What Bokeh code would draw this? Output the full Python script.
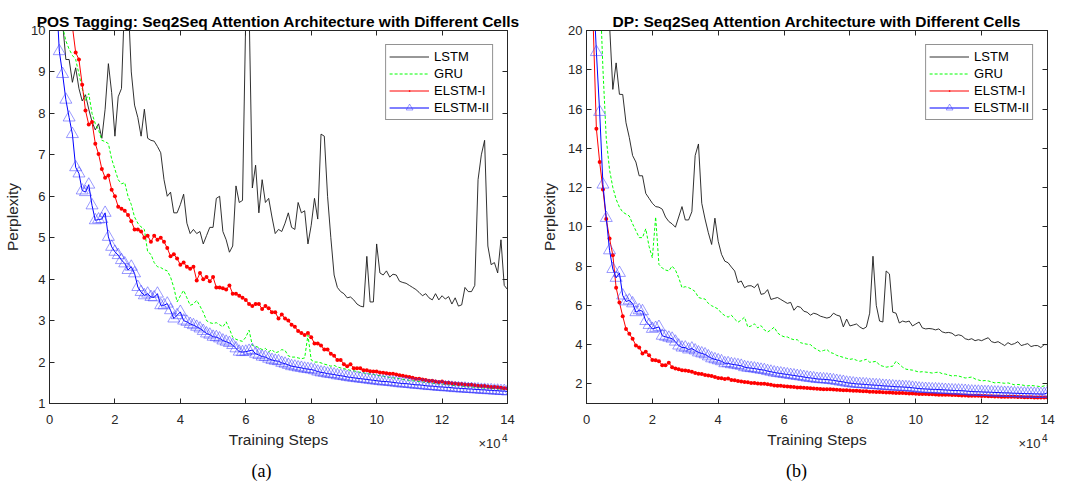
from bokeh.plotting import figure
from bokeh.layouts import row
from bokeh.models import Range1d, LinearAxis, FixedTicker, Legend, LegendItem, Label
from bokeh.embed import file_html
from bokeh.resources import INLINE

# training steps in units of 10^4 (one sample every 1000 steps, 0.2 ... 14.0)
steps = [k / 10 for k in range(2, 141)]

# ---------------- (a) POS tagging ----------------
pos_lstm = [
    12.0, 11.0, 10.2, 9.3, 9.3, 8.75, 9.1, 8.6,
    8.3, 8.45, 8.1, 7.8, 7.6, 7.75, 7.4, 8.1, 9.2, 8.5,
    7.45, 8.4, 8.6, 10.8, 10.8, 9.0, 8.2, 7.9, 7.45, 8.1,
    7.4, 7.35, 7.33, 7.2, 7.05, 6.4, 6.0, 6.1, 5.6, 5.6,
    5.8, 6.05, 5.35, 5.1, 5.2, 5.1, 5.15, 4.85, 5.05, 5.25,
    5.25, 5.95, 6.0, 5.15, 4.95, 4.65, 4.8, 6.25, 5.85, 5.9,
    10.4, 10.6, 6.2, 6.75, 5.6, 6.4, 5.85, 5.95, 5.5, 5.1,
    5.2, 5.15, 5.35, 5.6, 5.25, 5.2, 5.85, 5.6, 5.65, 4.85,
    5.3, 5.95, 5.45, 7.5, 7.45, 6.0, 5.0, 4.1, 3.8, 3.7,
    3.65, 3.55, 3.57, 3.5, 3.4, 3.35, 3.33, 4.55, 3.45, 3.45,
    4.85, 4.15, 4.1, 4.2, 4.05, 4.12, 4.1, 3.95, 3.92, 3.9,
    3.85, 3.8, 3.75, 3.68, 3.6, 3.65, 3.55, 3.5, 3.65, 3.5,
    3.6, 3.52, 3.58, 3.4, 3.55, 3.35, 3.38, 3.8, 3.7, 3.7,
    3.85, 6.4, 7.0, 7.35, 4.8, 4.35, 4.4, 4.15, 4.95, 3.85,
    3.75,
]
pos_gru = [
    12.5, 11.0, 10.1, 9.75, 9.55, 9.4, 9.3, 8.95,
    8.6, 8.3, 8.48, 8.0, 7.75, 7.6, 7.35, 7.32, 7.27, 6.9,
    6.65, 6.4, 6.3, 6.33, 6.0, 5.8, 5.5, 5.35, 5.26, 5.2,
    4.66, 4.6, 4.4, 4.3, 4.28, 4.23, 4.2, 4.05, 3.8, 3.45,
    3.6, 3.73, 3.55, 3.37, 3.4, 3.49, 3.35, 3.2, 3.0, 2.95,
    2.93, 2.95, 2.9, 2.85, 2.97, 2.8, 2.6, 2.55, 2.52, 2.5,
    2.6, 2.77, 2.4, 2.38, 2.35, 2.3, 2.33, 2.25, 2.3, 2.22,
    2.25, 2.3, 2.28, 2.15, 2.12, 2.12, 2.1, 2.08, 2.1, 2.65,
    2.05, 2.0, 2.0, 1.98, 1.95, 1.93, 1.9, 1.92, 1.88, 1.86,
    1.84, 1.82, 1.8, 1.79, 1.77, 1.75, 1.74, 1.72, 1.71, 1.7,
    1.68, 1.67, 1.66, 1.64, 1.63, 1.62, 1.61, 1.6, 1.58, 1.57,
    1.56, 1.55, 1.54, 1.53, 1.52, 1.51, 1.5, 1.49, 1.48, 1.47,
    1.47, 1.46, 1.45, 1.44, 1.43, 1.43, 1.42, 1.41, 1.4, 1.4,
    1.39, 1.38, 1.38, 1.37, 1.37, 1.36, 1.36, 1.35, 1.35, 1.34,
    1.34,
]
pos_elstm1 = [
    15.0, 14.0, 12.8, 11.8, 10.9, 10.1, 9.47, 9.3,
    8.69, 8.07, 7.73, 7.79, 7.27, 7.02, 6.66, 6.45, 6.5, 6.16,
    6.0, 5.75, 5.7, 5.65, 5.55, 5.4, 5.2, 5.2, 5.15, 5.0,
    5.05, 4.9, 5.05, 4.95, 5.0, 4.9, 4.75, 4.55, 4.6, 4.5,
    4.35, 4.4, 4.3, 4.25, 4.3, 3.97, 4.15, 4.0, 4.05, 3.95,
    4.05, 3.8, 3.8, 3.78, 3.75, 3.85, 3.65, 3.65, 3.6, 3.55,
    3.5, 3.4, 3.35, 3.4, 3.4, 3.28, 3.35, 3.3, 3.2, 3.2,
    3.05, 3.15, 3.05, 3.0, 2.9, 2.85, 2.75, 2.7, 2.65, 2.7,
    2.6, 2.45, 2.45, 2.4, 2.3, 2.3, 2.2, 2.15, 2.05, 2.05,
    1.95, 1.9, 1.95, 1.85, 1.85, 1.85, 1.8, 1.8, 1.78, 1.77,
    1.77, 1.75, 1.74, 1.73, 1.72, 1.72, 1.7, 1.68, 1.67, 1.65,
    1.64, 1.62, 1.6, 1.6, 1.58, 1.57, 1.55, 1.55, 1.53, 1.52,
    1.53, 1.5, 1.5, 1.49, 1.48, 1.47, 1.47, 1.46, 1.45, 1.45,
    1.44, 1.43, 1.42, 1.42, 1.41, 1.4, 1.4, 1.39, 1.38, 1.37,
    1.36,
]
pos_elstm2 = [
    11.0, 9.5, 8.95, 8.33, 7.9, 7.5, 6.7, 6.55,
    6.14, 6.1, 6.28, 5.78, 5.42, 5.44, 5.45, 5.6, 5.02, 4.78,
    4.66, 4.58, 4.46, 4.38, 4.22, 4.3, 4.14, 3.81, 3.69, 3.61,
    3.65, 3.57, 3.56, 3.65, 3.37, 3.37, 3.41, 3.25, 3.05, 3.13,
    3.21, 3.0, 2.97, 2.92, 2.89, 2.85, 2.81, 2.75, 2.69, 2.66,
    2.61, 2.6, 2.57, 2.52, 2.49, 2.46, 2.41, 2.33, 2.25, 2.24,
    2.25, 2.27, 2.29, 2.2, 2.17, 2.13, 2.12, 2.08, 2.05, 2.03,
    2.02, 1.98, 1.96, 1.93, 1.9, 1.89, 1.87, 1.86, 1.84, 1.83,
    1.82, 1.8, 1.77, 1.75, 1.74, 1.72, 1.71, 1.7, 1.68, 1.67,
    1.66, 1.64, 1.63, 1.62, 1.61, 1.6, 1.59, 1.58, 1.57, 1.56,
    1.55, 1.54, 1.53, 1.53, 1.52, 1.51, 1.5, 1.49, 1.48, 1.48,
    1.47, 1.46, 1.45, 1.45, 1.44, 1.43, 1.42, 1.42, 1.41, 1.4,
    1.4, 1.39, 1.39, 1.38, 1.37, 1.37, 1.36, 1.36, 1.35, 1.35,
    1.34, 1.34, 1.33, 1.33, 1.32, 1.32, 1.31, 1.31, 1.3, 1.3,
    1.29,
]

# ---------------- (b) DP ----------------
dp_lstm = [
    30.0, 28.0, 26.0, 24.5, 22.5, 20.3, 17.0, 18.35,
    16.75, 16.74, 15.3, 14.55, 13.63, 13.3, 12.6, 12.6, 11.7, 11.45,
    11.2, 11.03, 11.0, 10.9, 10.5, 10.27, 10.15, 9.98, 10.5, 11.03,
    10.35, 10.35, 10.77, 13.63, 14.22, 11.2, 10.4, 9.7, 9.1, 10.44,
    9.26, 8.6, 8.25, 8.17, 7.95, 7.75, 7.16, 7.24, 6.9, 6.99,
    7.0, 6.9, 7.1, 6.56, 6.6, 6.8, 6.3, 6.35, 6.4, 6.3,
    6.2, 6.1, 6.15, 5.75, 5.95, 5.9, 5.7, 5.65, 5.5, 5.6,
    5.55, 5.45, 5.4, 5.35, 5.4, 5.6, 5.5, 5.45, 4.9, 5.3,
    4.95, 5.0, 5.05, 4.9, 4.8, 4.9, 5.6, 8.5, 6.0, 5.2,
    5.15, 7.75, 7.6, 5.65, 5.6, 5.1, 5.2, 5.15, 5.2, 4.95,
    5.05, 5.15, 4.85, 4.8, 4.82, 4.8, 4.75, 4.8, 4.65, 4.6,
    4.62, 4.58, 4.45, 4.5, 4.45, 4.3, 4.25, 4.3, 4.2, 4.25,
    4.2, 4.28, 4.35, 4.15, 4.1, 4.15, 4.05, 3.95, 4.1, 4.0,
    4.05, 4.15, 3.95, 4.0, 4.05, 3.9, 3.95, 3.95, 3.85, 4.0,
    4.0,
]
dp_gru = [
    35.0, 28.0, 22.5, 18.0, 14.5, 12.9, 12.0, 11.4,
    11.0, 10.75, 10.65, 10.55, 10.15, 9.8, 9.45, 9.45, 9.9, 9.0,
    8.42, 10.5, 8.08, 7.9, 7.8, 7.75, 8.0, 7.8, 7.41, 6.9,
    6.95, 6.9, 6.82, 6.7, 6.4, 6.35, 6.32, 6.1, 5.98, 5.9,
    5.81, 5.6, 5.48, 5.4, 5.5, 5.3, 5.14, 5.25, 5.4, 4.89,
    4.95, 5.06, 4.85, 4.97, 4.75, 4.64, 4.75, 4.89, 4.6, 4.47,
    4.4, 4.39, 4.3, 4.25, 4.25, 4.1, 4.05, 4.02, 4.0, 3.85,
    3.75, 3.65, 3.7, 3.75, 3.6, 3.55, 3.45, 3.4, 3.35, 3.3,
    3.25, 3.28, 3.2, 3.15, 3.2, 3.25, 3.1, 3.12, 3.15, 2.95,
    2.9, 2.85, 2.88, 2.9, 3.15, 3.0, 2.85, 2.75, 2.72, 2.7,
    2.65, 2.6, 2.62, 2.6, 2.58, 2.55, 2.58, 2.6, 2.52, 2.5,
    2.45, 2.4, 2.42, 2.4, 2.35, 2.3, 2.32, 2.35, 2.25, 2.2,
    2.15, 2.17, 2.15, 2.1, 2.05, 2.07, 2.05, 2.03, 2.05, 2.0,
    1.95, 1.97, 1.95, 1.92, 1.9, 1.92, 1.9, 1.88, 1.85, 1.9,
    1.95,
]
dp_elstm1 = [
    20.5, 15.0, 13.3, 11.9, 10.4, 9.4, 8.55, 6.9,
    6.15, 5.45, 4.8, 4.55, 4.3, 3.95, 3.85, 3.55, 3.63, 3.46,
    3.22, 3.2, 3.15, 2.95, 2.95, 3.08, 2.85, 2.78, 2.75, 2.7,
    2.68, 2.65, 2.62, 2.55, 2.52, 2.5, 2.45, 2.42, 2.4, 2.35,
    2.3, 2.28, 2.25, 2.27, 2.2, 2.18, 2.15, 2.12, 2.1, 2.08,
    2.05, 2.04, 2.02, 2.0, 2.01, 1.98, 1.95, 1.92, 1.9, 1.9,
    1.88, 1.87, 1.85, 1.84, 1.82, 1.81, 1.8, 1.79, 1.78, 1.76,
    1.75, 1.74, 1.73, 1.72, 1.72, 1.71, 1.7, 1.69, 1.68, 1.67,
    1.66, 1.65, 1.65, 1.64, 1.62, 1.62, 1.6, 1.6, 1.59, 1.58,
    1.57, 1.56, 1.56, 1.55, 1.54, 1.53, 1.53, 1.52, 1.51, 1.51,
    1.5, 1.49, 1.49, 1.48, 1.47, 1.47, 1.46, 1.45, 1.45, 1.44,
    1.44, 1.43, 1.43, 1.42, 1.41, 1.41, 1.4, 1.4, 1.39, 1.39,
    1.38, 1.38, 1.37, 1.37, 1.36, 1.36, 1.35, 1.35, 1.35, 1.34,
    1.34, 1.33, 1.33, 1.32, 1.32, 1.32, 1.31, 1.31, 1.3, 1.3,
    1.3,
]
dp_elstm2 = [
    22.5, 18.9, 15.85, 12.15, 10.45, 8.8, 7.85, 7.4,
    7.65, 6.5, 6.2, 6.25, 6.1, 5.65, 5.75, 5.7, 5.2, 5.0,
    4.8, 4.85, 4.9, 4.45, 4.4, 4.35, 4.3, 4.15, 3.95, 3.85,
    3.85, 3.75, 3.8, 3.7, 3.6, 3.55, 3.5, 3.4, 3.3, 3.25,
    3.2, 3.15, 3.05, 3.05, 3.0, 2.98, 2.95, 2.92, 2.85, 2.82,
    2.8, 2.78, 2.75, 2.72, 2.7, 2.65, 2.62, 2.58, 2.55, 2.53,
    2.5, 2.48, 2.45, 2.43, 2.4, 2.38, 2.35, 2.32, 2.3, 2.28,
    2.25, 2.24, 2.23, 2.22, 2.2, 2.18, 2.15, 2.12, 2.1, 2.06,
    2.04, 2.02, 2.0, 1.99, 1.98, 1.97, 1.95, 1.94, 1.93, 1.92,
    1.9, 1.89, 1.88, 1.87, 1.85, 1.85, 1.84, 1.83, 1.82, 1.8,
    1.78, 1.76, 1.75, 1.74, 1.73, 1.72, 1.72, 1.71, 1.7, 1.69,
    1.68, 1.67, 1.66, 1.66, 1.65, 1.64, 1.62, 1.61, 1.6, 1.6,
    1.59, 1.58, 1.58, 1.57, 1.56, 1.56, 1.55, 1.54, 1.54, 1.53,
    1.52, 1.52, 1.51, 1.51, 1.5, 1.5, 1.49, 1.49, 1.48, 1.48,
    1.55,
]

x_ticks = [0, 2, 4, 6, 8, 10, 12, 14]
pos_y_ticks = [1, 2, 3, 4, 5, 6, 7, 8, 9, 10]
dp_y_ticks = [2, 4, 6, 8, 10, 12, 14, 16, 18, 20]
series_names = ["LSTM", "GRU", "ELSTM-I", "ELSTM-II"]

AX = "#262626"
FONT = "Liberation Sans"


def style_axis(ax, ticks, labels=True, standoff=5):
    ax.ticker = FixedTicker(ticks=ticks)
    ax.axis_line_color = AX
    ax.axis_line_width = 1
    ax.major_tick_line_color = AX
    ax.major_tick_in = 5
    ax.major_tick_out = 0
    ax.minor_tick_line_color = None
    if labels:
        ax.major_label_text_font = FONT
        ax.major_label_text_font_size = "13px"
        ax.major_label_text_color = AX
        ax.major_label_standoff = standoff
        ax.axis_label_text_font = FONT
        ax.axis_label_text_font_size = "15.5px"
        ax.axis_label_text_font_style = "normal"
        ax.axis_label_text_color = AX
    else:
        ax.major_label_text_font_size = "1px"
        ax.major_label_text_color = None
        ax.major_label_standoff = 0


def panel(title, lstm, gru, e1, e2, y_end, y_ticks, bl, br, bt, tag, tag_x):
    p = figure(width=538, height=485, x_range=Range1d(0, 14), y_range=Range1d(1, y_end),
               output_backend="svg", toolbar_location=None,
               min_border_left=bl, min_border_right=br, min_border_top=bt, min_border_bottom=82)
    p.title.text = title
    p.title.text_font = FONT
    p.title.text_font_style = "bold"
    p.title.text_font_size = "15.5px"
    p.title.align = "center"
    p.title.text_color = "#000000"
    p.title.standoff = 2
    p.grid.visible = False
    p.outline_line_color = AX
    p.outline_line_width = 1
    p.background_fill_color = "white"
    p.border_fill_color = "white"

    style_axis(p.xaxis[0], x_ticks, True, 11)
    style_axis(p.yaxis[0], y_ticks, True, 4)
    p.xaxis[0].axis_label = "Training Steps"
    p.xaxis[0].axis_label_standoff = 4
    p.yaxis[0].axis_label = "Perplexity"
    p.yaxis[0].axis_label_standoff = 7
    top = LinearAxis()
    style_axis(top, x_ticks, False)
    p.add_layout(top, "above")
    right = LinearAxis()
    style_axis(right, y_ticks, False)
    p.add_layout(right, "right")

    xs = steps
    r1 = p.line(xs[:len(lstm)], lstm, line_color="#1a1a1a", line_width=0.9)
    r2 = p.line(xs[:len(gru)], gru, line_color="#00ff00", line_width=1, line_dash="3 2")
    r3 = p.line(xs[:len(e1)], e1, line_color="#ff0000", line_width=1)
    r3m = p.scatter(xs[:len(e1)], e1, marker="dot", size=16, line_color="#ff0000",
                    fill_color="#ff0000")
    r4 = p.line(xs[:len(e2)], e2, line_color="#0000ff", line_width=1)
    r4m = p.scatter(xs[:len(e2)], e2, marker="triangle", size=12, fill_color=None,
                    line_color="#3333ff", line_alpha=0.55, line_width=0.9)

    legend = Legend(items=[
        LegendItem(label=series_names[0], renderers=[r1]),
        LegendItem(label=series_names[1], renderers=[r2]),
        LegendItem(label=series_names[2], renderers=[r3, r3m]),
        LegendItem(label=series_names[3], renderers=[r4, r4m]),
    ], location="top_right", margin=14, padding=3, spacing=0,
        glyph_width=40, glyph_height=17, label_height=17, label_standoff=5,
        label_text_font=FONT, label_text_font_size="13px", label_text_color="#000000",
        border_line_color=AX, border_line_width=0.8, background_fill_color="white",
        background_fill_alpha=1)
    p.add_layout(legend)

    # texts outside the frame live in side panels (so they are not clipped)
    p.add_layout(Label(x=14, y=1, y_offset=-40, x_offset=-7, text="\u00d710",
                       text_align="right", text_baseline="middle", text_font=FONT,
                       text_font_size="13px", text_color=AX), "right")
    p.add_layout(Label(x=14, y=1, y_offset=-34, x_offset=0, text="4",
                       text_align="right", text_baseline="middle", text_font=FONT,
                       text_font_size="10px", text_color=AX), "right")
    p.add_layout(Label(x=tag_x, y=1, y_offset=-67, text=tag, text_align="center",
                       text_baseline="middle", text_font="Liberation Serif",
                       text_font_size="18px", text_color="#000000"), "below")
    return p


p1 = panel("POS Tagging: Seq2Seq Attention Architecture with Different Cells",
           pos_lstm, pos_gru, pos_elstm1, pos_elstm2, 10, pos_y_ticks, 49, 31, 30, "(a)", 6.48)
p2 = panel("DP: Seq2Seq Attention Architecture with Different Cells",
           dp_lstm, dp_gru, dp_elstm1, dp_elstm2, 20, dp_y_ticks, 47, 29, 25, "(b)", 6.38)

layout = row(p1, p2, spacing=0)
open("out.html", "w").write(file_html(layout, INLINE))
